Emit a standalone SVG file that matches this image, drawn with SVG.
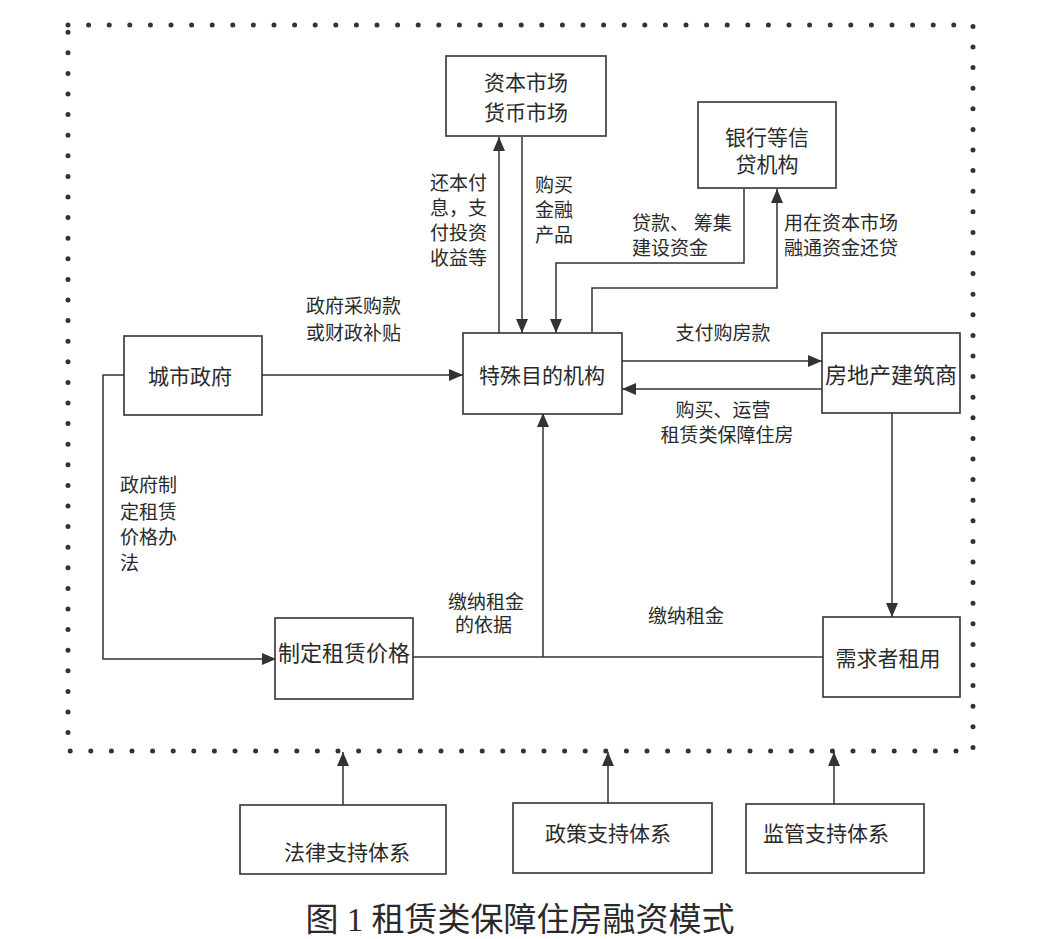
<svg xmlns="http://www.w3.org/2000/svg" width="1037" height="939" viewBox="0 0 1037 939">
<style>
.box{fill:#fff;stroke:#333;stroke-width:1.6}
.ln{fill:none;stroke:#333;stroke-width:1.5}
.dots{fill:none;stroke:#333;stroke-width:5;stroke-linecap:round;stroke-dasharray:0 20.6}
text{font-family:"Liberation Serif","Noto Sans CJK SC",sans-serif;fill:#2a2a2a;dominant-baseline:central}
.n{font-size:21px;text-anchor:middle}
.l{font-size:19px}
.t{font-size:33px;text-anchor:middle}
</style>
<defs>
<marker id="ar" markerUnits="userSpaceOnUse" markerWidth="14" markerHeight="12" refX="14" refY="6" orient="auto">
<path d="M0,0 L14,6 L0,12 z" fill="#333"/>
</marker>
</defs>
<rect width="1037" height="939" fill="#fff"/>
<g id="frame">
<path class="dots" d="M68,25 H973 V751 H68 Z"/>
</g>
<g id="connectors">
<path class="ln" d="M262,375 H463" marker-end="url(#ar)"/>
<path class="ln" d="M124,375 H103 V659 H276" marker-end="url(#ar)"/>
<path class="ln" d="M413,657 H823"/>
<path class="ln" d="M543,657 V413" marker-end="url(#ar)"/>
<path class="ln" d="M622,361 H822" marker-end="url(#ar)"/>
<path class="ln" d="M822,389 H622" marker-end="url(#ar)"/>
<path class="ln" d="M892,413 V617" marker-end="url(#ar)"/>
<path class="ln" d="M499,333 V137" marker-end="url(#ar)"/>
<path class="ln" d="M522,137 V333" marker-end="url(#ar)"/>
<path class="ln" d="M744,189 V263 H556 V333" marker-end="url(#ar)"/>
<path class="ln" d="M592,333 V288 H777 V189" marker-end="url(#ar)"/>
<path class="ln" d="M343,805 V752" marker-end="url(#ar)"/>
<path class="ln" d="M608,803 V752" marker-end="url(#ar)"/>
<path class="ln" d="M834,804 V752" marker-end="url(#ar)"/>
</g>
<g id="labels">
<text class="l" x="430" y="183">还本付</text>
<text class="l" x="430" y="208">息，支</text>
<text class="l" x="430" y="233">付投资</text>
<text class="l" x="430" y="258">收益等</text>
<text class="l" x="535" y="185">购买</text>
<text class="l" x="535" y="210">金融</text>
<text class="l" x="535" y="235">产品</text>
<text class="l" x="632" y="223">贷款、 筹集</text>
<text class="l" x="632" y="248">建设资金</text>
<text class="l" x="784" y="223">用在资本市场</text>
<text class="l" x="784" y="248">融通资金还贷</text>
<text class="l" x="306" y="306">政府采购款</text>
<text class="l" x="306" y="333">或财政补贴</text>
<text class="l" x="723" y="333" text-anchor="middle">支付购房款</text>
<text class="l" x="723" y="410" text-anchor="middle">购买、运营</text>
<text class="l" x="727" y="435" text-anchor="middle">租赁类保障住房</text>
<text class="l" x="120" y="485">政府制</text>
<text class="l" x="120" y="512">定租赁</text>
<text class="l" x="120" y="537">价格办</text>
<text class="l" x="120" y="563">法</text>
<text class="l" x="448" y="602">缴纳租金</text>
<text class="l" x="455" y="625">的依据</text>
<text class="l" x="648" y="616">缴纳租金</text>
</g>
<g id="capital">
<rect class="box" x="446" y="56" width="160" height="80"/>
<text class="n" x="526" y="83">资本市场</text>
<text class="n" x="526" y="113">货币市场</text>
</g>
<g id="bank">
<rect class="box" x="698" y="102" width="138" height="86"/>
<text class="n" x="767" y="138">银行等信</text>
<text class="n" x="767" y="165">贷机构</text>
</g>
<g id="citygov">
<rect class="box" x="124" y="336" width="138" height="79"/>
<text class="n" x="190" y="377">城市政府</text>
</g>
<g id="spv">
<rect class="box" x="463" y="333" width="159" height="81"/>
<text class="n" x="542" y="376">特殊目的机构</text>
</g>
<g id="developer">
<rect class="box" x="822" y="333" width="138" height="80"/>
<text class="n" x="891" y="375" style="font-size:22px">房地产建筑商</text>
</g>
<g id="pricing">
<rect class="box" x="275" y="618" width="138" height="81"/>
<text class="n" x="344" y="653" style="font-size:22px">制定租赁价格</text>
</g>
<g id="tenant">
<rect class="box" x="823" y="617" width="137" height="80"/>
<text class="n" x="888" y="659">需求者租用</text>
</g>
<g id="law">
<rect class="box" x="240" y="805" width="206" height="69"/>
<text class="n" x="347" y="853">法律支持体系</text>
</g>
<g id="policy">
<rect class="box" x="513" y="803" width="199" height="70"/>
<text class="n" x="608" y="834">政策支持体系</text>
</g>
<g id="supervision">
<rect class="box" x="746" y="804" width="178" height="69"/>
<text class="n" x="826" y="834">监管支持体系</text>
</g>
<g id="title">
<text class="t" x="520" y="920">图 1 租赁类保障住房融资模式</text>
</g>
</svg>
